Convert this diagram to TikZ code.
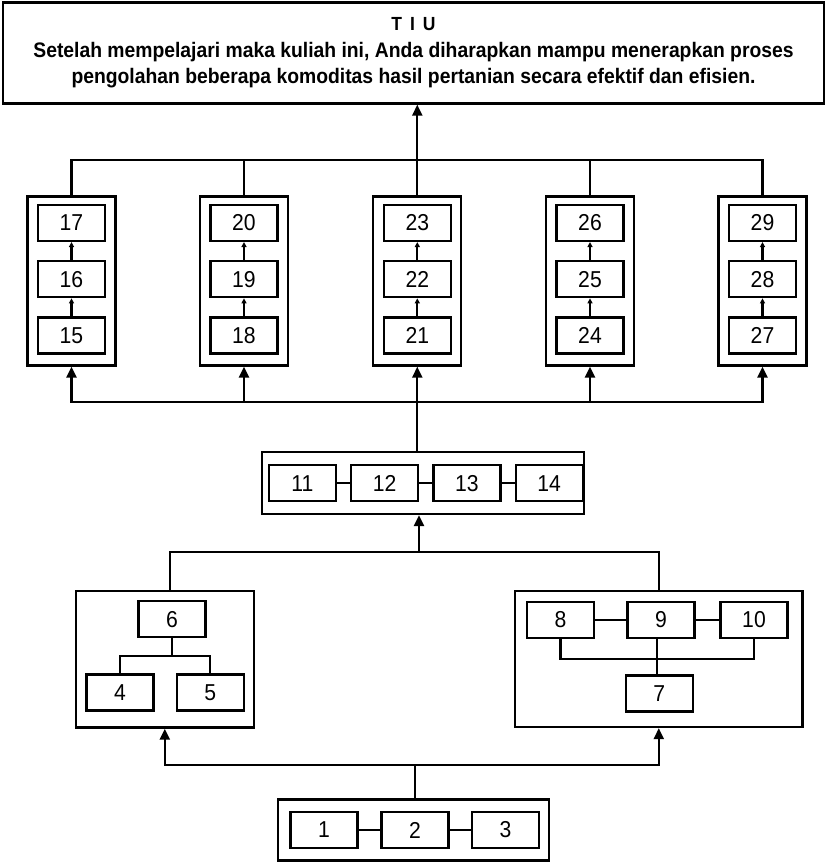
\documentclass[tikz,border=0pt]{standalone}
\usepackage{fontspec}
\setmainfont{Liberation Sans}[FakeStretch=0.92]
\usetikzlibrary{arrows.meta,positioning}
\tikzstyle{edge}=[
	-,
	draw=black,
	line width=2.3pt
]
\tikzstyle{arr}=[
	edge,
	-{Triangle[width=10pt,length=11pt]}
]
\tikzstyle{sarr}=[
	edge,
	-{Triangle[width=5pt,length=5pt]}
]
\tikzstyle{frame}=[
	rectangle,
	draw=black,
	line width=2.3pt,
	inner sep=0pt
]
\tikzstyle{box}=[
	frame,
	minimum width=67pt,
	minimum height=36pt,
	font=\fontsize{23}{23}\selectfont
]

\begin{document}
\begin{tikzpicture}[x=1pt,y=-1pt,node distance=18pt]
\useasboundingbox (0,0) rectangle (827,863);

% goal
\node[frame, minimum width=821pt, minimum height=101pt, align=center,
      font=\bfseries\fontsize{21}{26.5}\selectfont] (tiu) at (413.5,53)
  {{\fontsize{19}{26.5}\selectfont T\, I\, U}\\
   Setelah mempelajari maka kuliah ini, Anda diharapkan mampu menerapkan proses\\
   pengolahan beberapa komoditas hasil pertanian secara efektif dan efisien.};

% columns
\node[frame, minimum width=88pt, minimum height=169pt] (c1) at (71.5,281) {};
\node[frame, minimum width=88pt, minimum height=169pt] (c2) at (244,281) {};
\node[frame, minimum width=88pt, minimum height=169pt] (c3) at (417.3,281) {};
\node[frame, minimum width=88pt, minimum height=169pt] (c4) at (590,281) {};
\node[frame, minimum width=88pt, minimum height=169pt] (c5) at (762.5,281) {};

\node[box] (15) at (71.5,335.5) {15};
\node[box, above=of 15] (16) {16};
\node[box, above=of 16] (17) {17};
\node[box] (18) at (244,335.5) {18};
\node[box, above=of 18] (19) {19};
\node[box, above=of 19] (20) {20};
\node[box] (21) at (417.3,335.5) {21};
\node[box, above=of 21] (22) {22};
\node[box, above=of 22] (23) {23};
\node[box] (24) at (590,335.5) {24};
\node[box, above=of 24] (25) {25};
\node[box, above=of 25] (26) {26};
\node[box] (27) at (762.5,335.5) {27};
\node[box, above=of 27] (28) {28};
\node[box, above=of 28] (29) {29};

\draw[sarr] (15.north) to (16.south);
\draw[sarr] (16.north) to (17.south);
\draw[sarr] (18.north) to (19.south);
\draw[sarr] (19.north) to (20.south);
\draw[sarr] (21.north) to (22.south);
\draw[sarr] (22.north) to (23.south);
\draw[sarr] (24.north) to (25.south);
\draw[sarr] (25.north) to (26.south);
\draw[sarr] (27.north) to (28.south);
\draw[sarr] (28.north) to (29.south);

% middle row
\node[frame, minimum width=322pt, minimum height=62pt] (m) at (422.8,483) {};
\node[box] (11) at (302.3,483.3) {11};
\node[box, right=13pt of 11] (12) {12};
\node[box, right=13pt of 12] (13) {13};
\node[box, right=13pt of 13] (14) {14};

\draw[edge] (11) to (12);
\draw[edge] (12) to (13);
\draw[edge] (13) to (14);

% left group
\node[frame, minimum width=178pt, minimum height=136.5pt] (L) at (164.8,659.3) {};
\node[box] (6) at (172,619.3) {6};
\node[box] (4) at (120,692.5) {4};
\node[box] (5) at (210.3,692.5) {5};
\coordinate (ltree) at (172,655.7);

\draw[edge] (6.south) to (ltree);
\draw[edge] (4.north) |- (ltree) -| (5.north);

% right group
\node[frame, minimum width=287.5pt, minimum height=136pt] (R) at (658.8,659) {};
\node[box] (8) at (560.5,619.7) {8};
\node[box] (9) at (661,619.7) {9};
\node[box] (10) at (754,619.7) {10};
\node[box] (7) at (659.3,693.5) {7};
\coordinate (rtree) at (657,659);

\draw[edge] (8) to (9);
\draw[edge] (9) to (10);
\draw[edge] (rtree |- 9.south) to (rtree |- 7.north);
\draw[edge] (8.south) |- (rtree) -| (10.south);

% bottom row
\node[frame, minimum width=271pt, minimum height=61pt] (B) at (413.5,830) {};
\node[box] (1) at (324,830) {1};
\node[box] (2) at (415,830) {2};
\node[box] (3) at (505.5,830) {3};

\draw[edge] (1) to (2);
\draw[edge] (2) to (3);

% buses
\coordinate (topbus) at (417.3,160.3);
\coordinate (colbus) at (417.3,402);
\coordinate (midbus) at (419,552.3);
\coordinate (botbus) at (415,765.3);

\draw[edge] (c1.north) |- (topbus) -| (c5.north);
\draw[edge] (c2.north) to (c2.north |- topbus);
\draw[edge] (c4.north) to (c4.north |- topbus);
\draw[arr] (c3.north) to (c3.north |- tiu.south);

\draw[edge] (colbus |- m.north) to (colbus);
\draw[arr] (colbus) -| (c1.south);
\draw[arr] (colbus) -| (c2.south);
\draw[arr] (colbus) to (c3.south);
\draw[arr] (colbus) -| (c4.south);
\draw[arr] (colbus) -| (c5.south);

\draw[arr] (midbus) to (midbus |- m.south);
\draw[edge] ([xshift=5pt]L.north) |- (midbus) -| (R.north);

\draw[edge] (botbus |- B.north) to (botbus);
\draw[arr] (botbus) -| (L.south);
\draw[arr] (botbus) -| (R.south);

\end{tikzpicture}
\end{document}
